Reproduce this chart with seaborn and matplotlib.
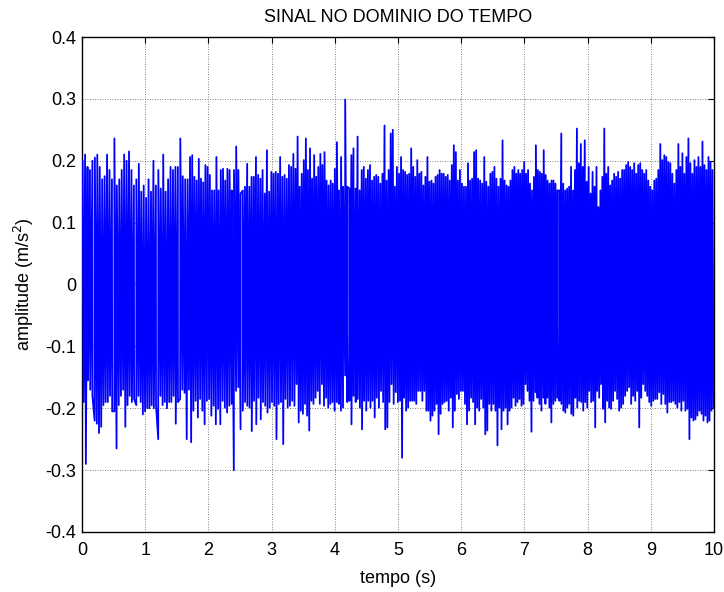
import numpy as np
import pandas as pd
import matplotlib
matplotlib.use("Agg")
import matplotlib.pyplot as plt
import seaborn as sns

# Signal peaks (m/s^2), grouped in six consecutive time segments
segment_edges = [0.0, 1.70, 3.37, 5.04, 6.71, 8.38, 10.0]

upper_peaks = [
    [0.20, 0.21, 0.19, 0.185, 0.20, 0.205, 0.21, 0.19, 0.17, 0.175, 0.21, 0.185, 0.17, 0.236, 0.16,
     0.17, 0.185, 0.21, 0.20, 0.215, 0.185, 0.16, 0.17, 0.195, 0.15, 0.16, 0.14, 0.17, 0.15, 0.20,
     0.16, 0.185, 0.155, 0.21, 0.15, 0.17, 0.19, 0.185, 0.19, 0.19, 0.236, 0.175, 0.17, 0.17],
    [0.206, 0.209, 0.174, 0.168, 0.203, 0.171, 0.165, 0.193, 0.19, 0.177, 0.152, 0.152, 0.206, 0.152,
     0.185, 0.187, 0.168, 0.187, 0.185, 0.152, 0.185, 0.223, 0.185, 0.147, 0.152, 0.158, 0.195, 0.158,
     0.174, 0.174, 0.206, 0.177, 0.171, 0.185, 0.147, 0.217, 0.15, 0.182, 0.179, 0.182, 0.179, 0.206,
     0.174, 0.177, 0.171, 0.193, 0.19, 0.211],
    [0.187, 0.239, 0.158, 0.179, 0.201, 0.236, 0.185, 0.22, 0.171, 0.209, 0.174, 0.19, 0.211, 0.193,
     0.214, 0.168, 0.16, 0.168, 0.163, 0.187, 0.23, 0.152, 0.206, 0.158, 0.299, 0.158, 0.155, 0.209,
     0.22, 0.155, 0.239, 0.152, 0.185, 0.19, 0.171, 0.185, 0.193, 0.168, 0.174, 0.177, 0.174, 0.163,
     0.179, 0.257, 0.168, 0.185, 0.244, 0.25, 0.158, 0.19, 0.179],
    [0.206, 0.185, 0.182, 0.177, 0.179, 0.22, 0.19, 0.174, 0.201, 0.179, 0.182, 0.16, 0.174, 0.206,
     0.166, 0.168, 0.163, 0.174, 0.177, 0.185, 0.179, 0.179, 0.174, 0.177, 0.168, 0.193, 0.225, 0.214,
     0.168, 0.185, 0.163, 0.158, 0.158, 0.196, 0.168, 0.171, 0.214, 0.217, 0.171, 0.168, 0.163, 0.206,
     0.166, 0.158, 0.179, 0.182, 0.19, 0.171, 0.158, 0.171, 0.233, 0.168],
    [0.16, 0.158, 0.168, 0.185, 0.19, 0.179, 0.185, 0.179, 0.185, 0.198, 0.179, 0.185, 0.163, 0.152,
     0.174, 0.225, 0.185, 0.182, 0.179, 0.217, 0.177, 0.168, 0.163, 0.168, 0.168, 0.163, 0.152, 0.152,
     0.244, 0.163, 0.152, 0.155, 0.158, 0.19, 0.152, 0.185, 0.252, 0.196, 0.227, 0.19, 0.233, 0.166,
     0.19, 0.147, 0.182, 0.158, 0.19, 0.125, 0.152, 0.174, 0.252, 0.179, 0.19, 0.16],
    [0.168, 0.179, 0.174, 0.182, 0.171, 0.185, 0.185, 0.193, 0.198, 0.19, 0.185, 0.196, 0.179, 0.193,
     0.196, 0.185, 0.179, 0.185, 0.168, 0.158, 0.152, 0.168, 0.171, 0.185, 0.227, 0.201, 0.209, 0.206,
     0.198, 0.196, 0.179, 0.163, 0.185, 0.227, 0.19, 0.212, 0.179, 0.206, 0.236, 0.196, 0.179, 0.201,
     0.19, 0.206, 0.19, 0.231, 0.193, 0.185, 0.206, 0.198, 0.185],
]

lower_peaks = [
    [-0.19, -0.29, -0.155, -0.17, -0.18, -0.22, -0.225, -0.24, -0.23, -0.195, -0.19, -0.19, -0.18,
     -0.205, -0.205, -0.265, -0.195, -0.18, -0.17, -0.23, -0.195, -0.18, -0.19, -0.185, -0.195, -0.18,
     -0.19, -0.21, -0.205, -0.2, -0.2, -0.195, -0.2, -0.195, -0.25, -0.18, -0.195, -0.19, -0.2, -0.19,
     -0.19, -0.18, -0.225, -0.19, -0.185, -0.17, -0.175, -0.25, -0.17],
    [-0.255, -0.204, -0.188, -0.215, -0.185, -0.204, -0.226, -0.188, -0.185, -0.212, -0.196, -0.226,
     -0.201, -0.226, -0.188, -0.199, -0.207, -0.196, -0.193, -0.30, -0.172, -0.166, -0.234, -0.204,
     -0.19, -0.196, -0.199, -0.237, -0.188, -0.226, -0.183, -0.218, -0.19, -0.196, -0.207, -0.199,
     -0.19, -0.196, -0.25, -0.193, -0.19, -0.258, -0.185, -0.199, -0.196, -0.188, -0.196],
    [-0.161, -0.223, -0.204, -0.209, -0.193, -0.212, -0.236, -0.188, -0.193, -0.183, -0.172, -0.193,
     -0.161, -0.196, -0.183, -0.199, -0.193, -0.19, -0.204, -0.19, -0.193, -0.204, -0.199, -0.147,
     -0.19, -0.188, -0.226, -0.18, -0.19, -0.185, -0.199, -0.234, -0.188, -0.204, -0.188, -0.199,
     -0.188, -0.215, -0.183, -0.199, -0.172, -0.19, -0.234, -0.231, -0.19, -0.161, -0.193, -0.174,
     -0.19, -0.188],
    [-0.28, -0.183, -0.204, -0.199, -0.188, -0.188, -0.188, -0.193, -0.172, -0.172, -0.188, -0.172,
     -0.204, -0.204, -0.22, -0.212, -0.204, -0.193, -0.242, -0.209, -0.193, -0.19, -0.188, -0.204,
     -0.183, -0.231, -0.204, -0.177, -0.185, -0.172, -0.172, -0.193, -0.226, -0.204, -0.183, -0.19,
     -0.226, -0.199, -0.204, -0.185, -0.199, -0.242, -0.236, -0.193, -0.204, -0.193, -0.204, -0.26,
     -0.199, -0.234, -0.204, -0.199],
    [-0.226, -0.204, -0.199, -0.183, -0.196, -0.19, -0.185, -0.196, -0.193, -0.161, -0.172, -0.188,
     -0.238, -0.188, -0.174, -0.183, -0.193, -0.204, -0.183, -0.193, -0.183, -0.199, -0.223, -0.193,
     -0.188, -0.183, -0.188, -0.193, -0.204, -0.207, -0.199, -0.193, -0.209, -0.212, -0.183, -0.199,
     -0.188, -0.19, -0.204, -0.19, -0.199, -0.172, -0.19, -0.188, -0.231, -0.172, -0.183, -0.161,
     -0.201, -0.223, -0.188, -0.199, -0.201],
    [-0.188, -0.172, -0.185, -0.204, -0.199, -0.193, -0.18, -0.172, -0.166, -0.193, -0.18, -0.188,
     -0.172, -0.231, -0.183, -0.161, -0.172, -0.18, -0.19, -0.196, -0.188, -0.185, -0.185, -0.174,
     -0.193, -0.177, -0.193, -0.207, -0.19, -0.19, -0.188, -0.193, -0.199, -0.19, -0.204, -0.188,
     -0.204, -0.201, -0.25, -0.215, -0.22, -0.218, -0.212, -0.204, -0.209, -0.22, -0.212, -0.223,
     -0.22, -0.204, -0.199],
]

x_ticks = [0, 1, 2, 3, 4, 5, 6, 7, 8, 9, 10]
y_ticks = [-0.4, -0.3, -0.2, -0.1, 0, 0.1, 0.2, 0.3, 0.4]
y_tick_labels = ["-0.4", "-0.3", "-0.2", "-0.1", "0", "0.1", "0.2", "0.3", "0.4"]


def peak_times(values, t0, t1, phase):
    """Spread one segment's peaks evenly over [t0, t1)."""
    n = len(values)
    step = (t1 - t0) / n
    return t0 + step * (np.arange(n) + phase)


rows = []
for k in range(len(upper_peaks)):
    t0, t1 = segment_edges[k], segment_edges[k + 1]
    for t, v in zip(peak_times(upper_peaks[k], t0, t1, 0.25), upper_peaks[k]):
        rows.append((t, v))
    for t, v in zip(peak_times(lower_peaks[k], t0, t1, 0.75), lower_peaks[k]):
        rows.append((t, v))

signal = pd.DataFrame(rows, columns=["tempo", "amplitude"]).sort_values("tempo")

sns.set_style("white")
plt.rcParams["font.family"] = ["Liberation Sans", "DejaVu Sans"]
plt.rcParams["text.color"] = "black"
plt.rcParams["axes.labelcolor"] = "black"

fig = plt.figure(figsize=(7.24, 5.92), dpi=100)
ax = fig.add_axes([0.1133, 0.1014, 0.8729, 0.8361])

sns.lineplot(data=signal, x="tempo", y="amplitude", ax=ax, color="#0000FF",
             linewidth=1.3, estimator=None, sort=False, zorder=3)

ax.set_xlim(0, 10)
ax.set_ylim(-0.4, 0.4)
ax.set_xticks(x_ticks)
ax.set_xticklabels([str(v) for v in x_ticks])
ax.set_yticks(y_ticks)
ax.set_yticklabels(y_tick_labels)

ax.grid(True, linestyle=(0, (1, 2)), color="#555555", linewidth=0.6, zorder=0)
ax.set_axisbelow(True)
ax.tick_params(axis="both", direction="in", length=4, width=0.8, labelsize=13,
               top=True, right=True, colors="black")
ax.tick_params(axis="x", pad=7)
ax.tick_params(axis="y", pad=4)
for side in ax.spines.values():
    side.set_color("black")
    side.set_linewidth(1.0)

ax.set_title("SINAL NO DOMINIO DO TEMPO", fontsize=13, pad=11, color="black")
ax.set_xlabel("tempo (s)", fontsize=13, labelpad=8, color="black")
ax.set_ylabel("amplitude (m/s$^2$)", fontsize=13, labelpad=7, color="black")

fig.savefig("out.png", dpi=100, facecolor="white")
